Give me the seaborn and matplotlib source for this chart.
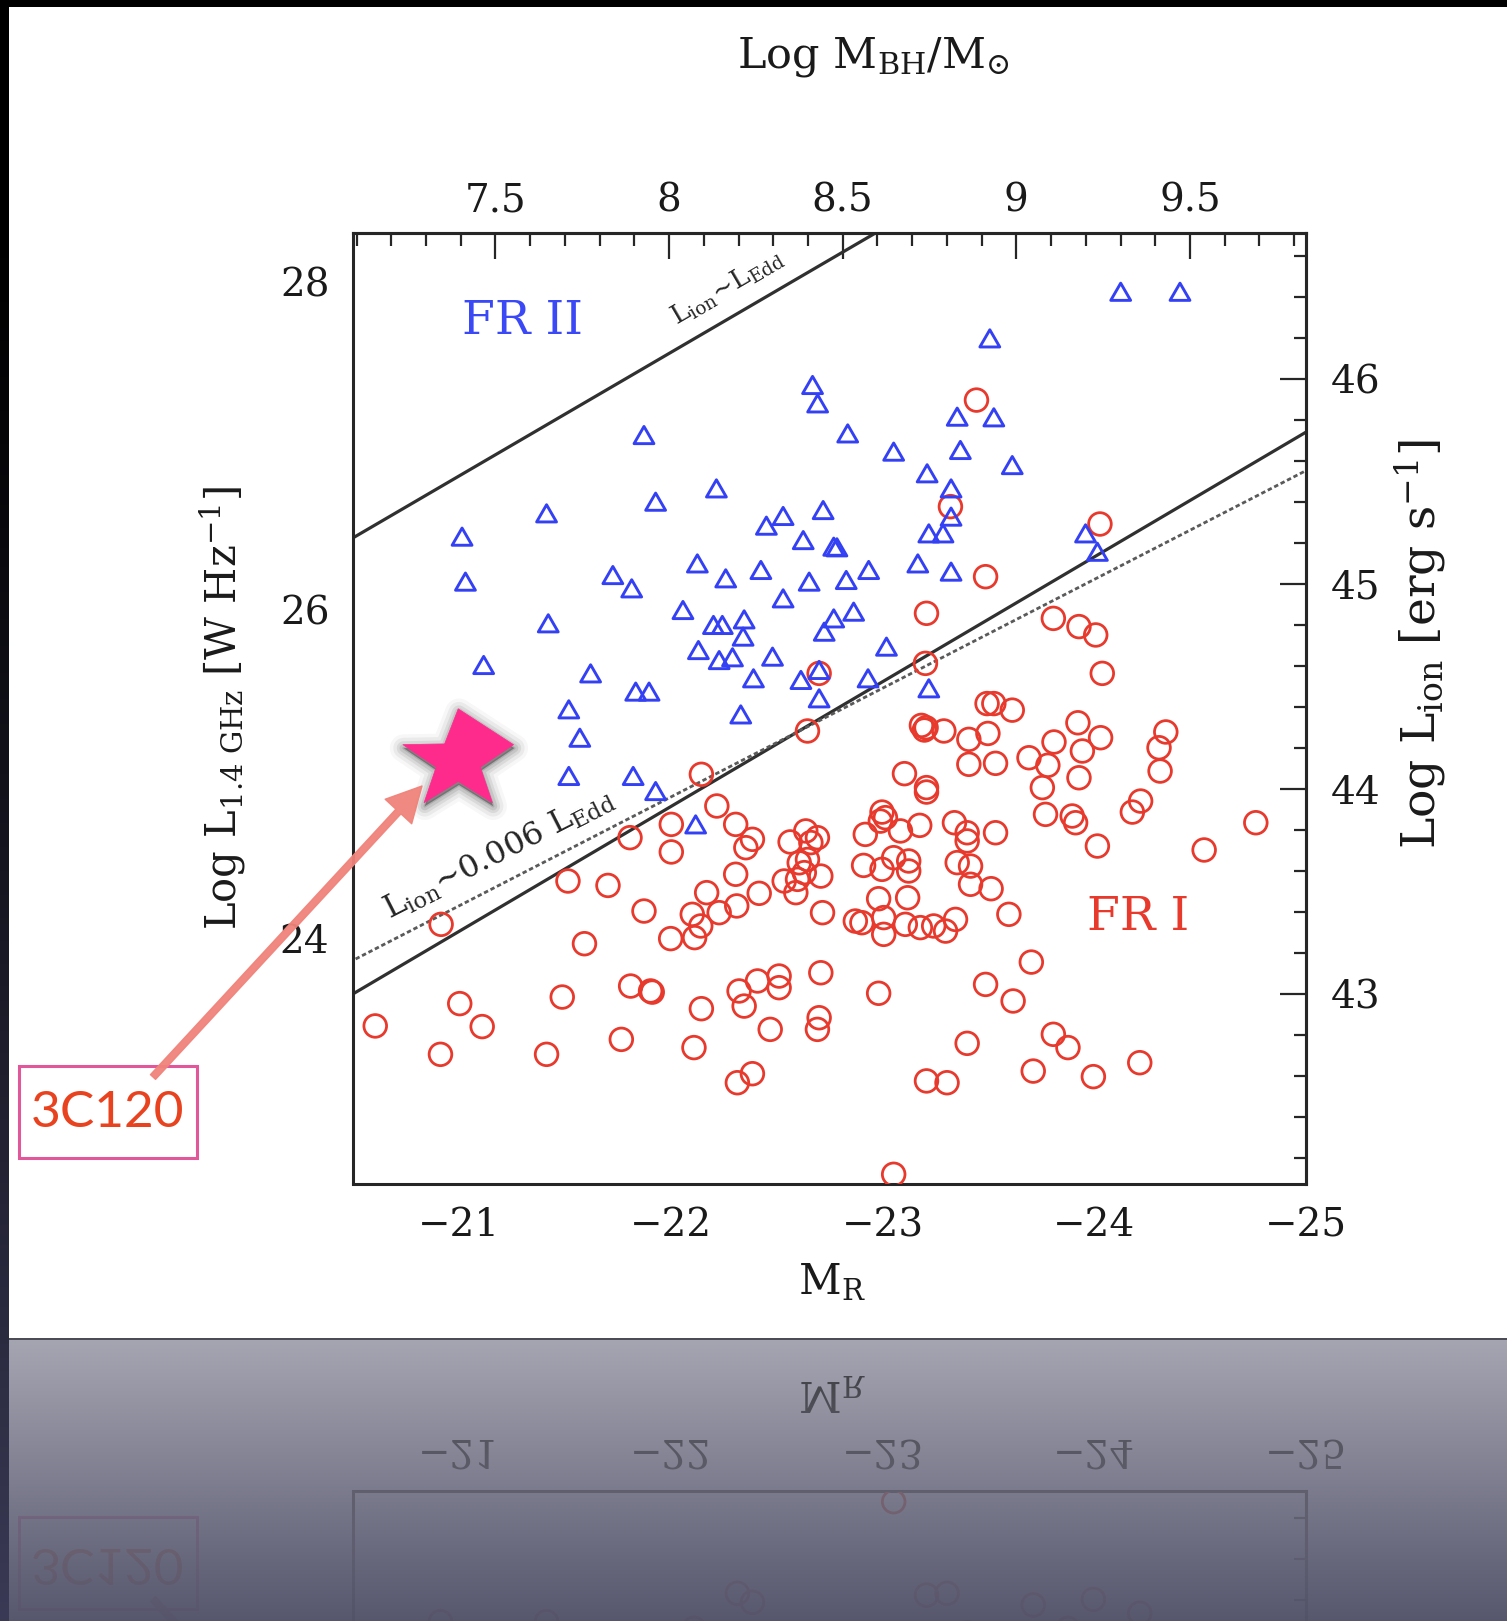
import numpy as np
import pandas as pd
import matplotlib
matplotlib.use("Agg")
import matplotlib.pyplot as plt
import seaborn as sns
from matplotlib.markers import MarkerStyle
from matplotlib.path import Path
from matplotlib.patches import FancyArrowPatch, Rectangle
import matplotlib.patheffects as pe
from matplotlib.ticker import MultipleLocator, FixedLocator, FuncFormatter

W, H = 1507, 1621
DPI = 100

# ---------------- data ----------------
# FR II radio galaxies (blue triangles): M_R, log L_1.4GHz
fr2_mr = [-21.015, -21.031, -21.414, -21.422, -21.117, -21.622, -21.874, -21.929, -22.216,
          -21.727, -21.816, -22.058, -22.126, -22.260, -22.426, -22.452, -22.531, -22.626,
          -22.654, -22.531, -22.670, -22.694, -22.720, -22.202, -22.244, -22.347, -22.342,
          -22.131, -22.229, -22.292, -22.481, -22.391, -22.615, -22.701, -22.701, -21.835,
          -21.898,
          -24.125, -24.405, -23.507, -23.353, -23.526, -22.836, -23.053, -23.368, -23.613,
          -23.211, -23.324, -23.324, -23.219, -23.286, -22.770, -22.785, -22.935, -22.829,
          -23.167, -23.324, -22.864, -22.770, -22.725, -23.019, -22.932, -23.219, -23.959,
          -24.015,
          -21.519, -21.571, -21.519, -21.823, -21.929, -22.118, -22.331]
fr2_logl = [26.447, 26.173, 26.589, 25.919, 25.665, 25.614, 27.066, 26.660, 26.741,
            26.213, 26.132, 26.000, 26.284, 26.193, 26.244, 26.514, 26.573, 26.426,
            26.173, 26.071, 27.371, 27.259, 26.609, 25.909, 25.909, 25.943, 25.838,
            25.756, 25.695, 25.712, 25.716, 25.584, 25.574, 25.635, 25.462, 25.503,
            25.503,
            27.939, 27.939, 27.655, 27.178, 27.174, 27.076, 26.965, 26.975, 26.883,
            26.833, 26.741, 26.569, 26.467, 26.467, 26.386, 26.382, 26.244, 26.183,
            26.284, 26.234, 25.990, 25.949, 25.868, 25.777, 25.584, 25.523, 26.467,
            26.355,
            25.395, 25.222, 24.989, 24.989, 24.897, 24.694, 25.364]

# FR I radio galaxies (red circles): M_R, log L_1.4GHz
fr1_mr = [-22.701, -23.444, -23.321, -24.027, -23.487, -23.208, -23.807, -23.928, -24.007,
          -24.038, -23.203, -23.494, -23.526, -23.613,
          -20.605, -20.913, -21.004, -21.110, -20.916, -21.414, -21.488, -21.515, -21.704,
          -21.593, -21.808, -21.767, -21.811, -21.905, -21.913, -21.874, -22.003, -22.003,
          -22.000, -22.145, -22.218, -22.307, -22.386, -22.355, -22.307, -22.170, -22.102,
          -22.229, -22.312, -22.142, -22.113, -22.418, -22.145, -22.110, -22.323, -22.347,
          -22.410, -22.512, -22.512, -22.470, -22.315, -22.386, -22.646, -22.564, -22.638,
          -22.693, -22.662, -22.536, -22.591, -22.607, -22.631, -22.599, -22.646, -22.709,
          -22.717, -22.709, -22.701, -22.693,
          -23.184, -23.206, -23.198, -23.290, -23.408, -23.498, -23.923, -24.030, -23.810,
          -23.692, -23.781, -23.944, -23.928, -23.755, -23.770, -23.896, -23.912, -24.015,
          -23.408, -23.534, -23.104, -23.208, -23.208, -24.338, -24.306, -24.311, -24.219,
          -24.180, -24.763, -24.519, -22.998, -23.014, -22.990, -22.919, -23.085, -23.176,
          -23.340, -23.400, -23.400, -23.534, -22.911, -22.998, -23.053, -23.124, -23.124,
          -23.353, -23.416, -23.416, -23.513, -22.982, -23.119, -23.597, -22.903, -23.006,
          -23.006, -23.108, -23.179, -23.242, -23.298, -23.345, -22.872, -23.703, -23.487,
          -23.617, -22.982, -23.400, -23.807, -23.876, -24.215, -23.712, -23.996, -23.208,
          -23.305, -23.053]
fr1_logl = [25.614, 27.279, 26.630, 26.524, 26.203, 25.980, 25.949, 25.899, 25.848,
            25.614, 25.675, 25.430, 25.430, 25.390,
            23.466, 23.293, 23.602, 23.462, 24.085, 23.293, 23.642, 24.349, 24.322,
            23.967, 24.613, 23.384, 23.709, 23.679, 23.672, 24.166, 24.694, 24.526,
            23.998, 24.999, 24.806, 24.694, 24.603, 24.552, 24.390, 24.278, 24.146,
            24.156, 24.197, 24.075, 24.004, 24.274, 23.571, 23.334, 23.679, 23.587,
            23.740, 23.770, 23.699, 23.445, 23.120, 23.175, 25.263, 24.587, 24.654,
            24.613, 24.583, 24.349, 24.278, 24.460, 24.400, 24.359, 24.480, 24.379,
            24.156, 23.790, 23.516, 23.445,
            25.297, 25.283, 25.269, 25.263, 25.212, 25.248, 25.313, 25.222, 25.196,
            25.100, 25.054, 25.141, 24.978, 24.918, 24.755, 24.745, 24.704, 24.562,
            25.060, 25.066, 25.003, 24.918, 24.891, 25.257, 25.161, 25.019, 24.836,
            24.769, 24.704, 24.538, 24.769, 24.735, 24.714, 24.633, 24.654, 24.688,
            24.704, 24.643, 24.593, 24.643, 24.444, 24.420, 24.491, 24.471, 24.410,
            24.461, 24.440, 24.329, 24.302, 24.241, 24.247, 24.146, 24.095, 24.126,
            24.024, 24.085, 24.065, 24.075, 24.044, 24.115, 24.105, 23.855, 23.719,
            23.618, 23.665, 23.360, 23.415, 23.334, 23.242, 23.191, 23.157, 23.131,
            23.120, 22.562]

# highlighted source
src_name = ["3C120"]
src_mr = [-20.997]
src_logl = [25.112]

# model lines: end points (M_R, log L_1.4)
edd_mr, edd_logl = [-20.30, -23.10], [26.289, 28.397]
f006_mr, f006_logl = [-20.30, -25.20], [23.509, 27.236]
dot_mr, dot_logl = [-20.30, -25.20], [23.733, 26.982]

# axis ticks
x_major = [-21, -22, -23, -24, -25]
y_major = [24, 26, 28]
mbh_major = [7.5, 8.0, 8.5, 9.0, 9.5]
lion_major = [43, 44, 45, 46]

region_labels = ["FR II", "FR I"]
line_labels = [r"L$_{\rm ion}$~L$_{\rm Edd}$", r"L$_{\rm ion}$~0.006 L$_{\rm Edd}$"]

# secondary-axis conversions
def mr_to_logm(m):
    return -0.6098 * np.asarray(m) - 5.411

def logm_to_mr(lm):
    return (np.asarray(lm) + 5.411) / -0.6098

def l_to_lion(l):
    return 0.8013 * np.asarray(l) + 24.040

def lion_to_l(li):
    return (np.asarray(li) - 24.040) / 0.8013

# ---------------- style ----------------
sns.set_theme(style="white")
plt.rcParams["font.family"] = ["DejaVu Serif", "DejaVu Sans"]
plt.rcParams["mathtext.fontset"] = "dejavuserif"
plt.rcParams["axes.unicode_minus"] = True

BLUE = "#3440f4"
RED = "#e8392d"
INK = "#262626"

fig = plt.figure(figsize=(W / DPI, H / DPI), dpi=DPI)
fig.patch.set_facecolor("black")

# slide background with white panel
PANEL_TOP, PANEL_BOTTOM, PANEL_LEFT = 7, 1338, 9
yy = np.arange(H)[:, None, None] / (H - 1)
shade = np.clip((yy - 0.12) / 0.88, 0, 1) ** 1.3
bg = np.ones((H, W, 3)) * shade * (np.array([58, 58, 86]) / 255.0)
bg[PANEL_TOP:PANEL_BOTTOM, PANEL_LEFT:, :] = 1.0
ax_bg = fig.add_axes([0, 0, 1, 1], zorder=-10)
ax_bg.imshow(bg, aspect="auto", interpolation="nearest", extent=(0, 1, 0, 1))
ax_bg.set_axis_off()

# main axes
L, R, T, B = 353, 1306, 233, 1183.5
ax = fig.add_axes([L / W, 1 - B / H, (R - L) / W, (B - T) / H])
ax.set_facecolor("white")
ax.set_xlim(-20.5, -25.0)
ax.set_ylim(22.506, 28.297)

# model lines
ax.plot(edd_mr, edd_logl, color="#303030", lw=2.3, zorder=2)
ax.plot(f006_mr, f006_logl, color="#303030", lw=2.3, zorder=2)
ax.plot(dot_mr, dot_logl, color="#5a5a5a", lw=2.0, ls=(0, (1.6, 1.0)), zorder=2)

# points
df1 = pd.DataFrame({"M_R": fr1_mr, "logL": fr1_logl})
df2 = pd.DataFrame({"M_R": fr2_mr, "logL": fr2_logl})
tri = MarkerStyle(Path([(0, 0.433), (-0.5, -0.433), (0.5, -0.433), (0, 0.433)], closed=True))
sns.scatterplot(data=df1, x="M_R", y="logL", ax=ax, marker="o", s=16.3 ** 2,
                color=RED, facecolor="none", edgecolor=RED, linewidth=2.0,
                zorder=3, legend=False)
sns.scatterplot(data=df2, x="M_R", y="logL", ax=ax, marker=tri, s=14.3 ** 2,
                color=BLUE, facecolor="none", edgecolor=BLUE, linewidth=2.1,
                zorder=3, legend=False)

# star marker for 3C120
ang = np.deg2rad(90 + 36 * np.arange(10))
rad = np.where(np.arange(10) % 2 == 0, 1.0, 0.40)
sx = rad * np.cos(ang) * 1.12
sy = rad * np.sin(ang)
sy = sy - (sy.max() + sy.min()) / 2
star = MarkerStyle(Path(np.column_stack([sx, sy]), closed=True))
dfs = pd.DataFrame({"M_R": src_mr, "logL": src_logl, "name": src_name})
sns.scatterplot(data=dfs, x="M_R", y="logL", ax=ax, marker=star, s=79.6 ** 2,
                color="#fe2b8d", edgecolor="#fe2b8d", linewidth=0.5,
                zorder=6, legend=False, clip_on=False)
shadow = [pe.SimplePatchShadow(offset=(0.5, -2.5), shadow_rgbFace="black", alpha=a, linewidth=lw)
          for lw, a in [(20, 0.03), (15, 0.05), (10, 0.07), (6, 0.09), (2, 0.12)]] + [pe.Normal()]
ax.collections[-1].set_path_effects(shadow)

# region & line labels
ax.text(-21.30, 27.756, region_labels[0], color="#3b48f6", fontsize=34,
        ha="center", va="center", zorder=4)
ax.text(-24.207, 24.125, region_labels[1], color=RED, fontsize=34,
        ha="center", va="center", zorder=4)
ax.text(-22.268, 27.966, line_labels[0], color=INK, fontsize=19, rotation=30.4,
        rotation_mode="anchor", ha="center", va="center", zorder=4)
ax.text(-21.188, 24.512, line_labels[1], color=INK, fontsize=23, rotation=27,
        rotation_mode="anchor", ha="center", va="center", zorder=4)

# ticks
fmt = FuncFormatter(lambda v, p: f"{v:g}".replace("-", "\u2212"))
ax.xaxis.set_major_locator(FixedLocator(x_major))
ax.xaxis.set_minor_locator(MultipleLocator(0.2))
ax.xaxis.set_major_formatter(fmt)
ax.yaxis.set_major_locator(FixedLocator(y_major))
ax.yaxis.set_minor_locator(MultipleLocator(0.5))
ax.yaxis.set_major_formatter(fmt)
ax.tick_params(which="both", direction="in", top=False, right=False,
               width=1.6, color=INK, labelcolor="#1a1a1a", labelsize=28)
ax.tick_params(which="major", length=19)
ax.tick_params(which="minor", length=9)
ax.tick_params(axis="x", which="major", pad=17)
ax.tick_params(axis="y", which="major", pad=17)
for s in ax.spines.values():
    s.set_linewidth(2.2)
    s.set_color(INK)

secx = ax.secondary_xaxis("top", functions=(mr_to_logm, logm_to_mr))
secx.xaxis.set_major_locator(FixedLocator(mbh_major))
secx.xaxis.set_minor_locator(MultipleLocator(0.1))
secx.xaxis.set_major_formatter(fmt)
secx.tick_params(which="both", direction="in", width=1.6, color=INK,
                 labelcolor="#1a1a1a", labelsize=28)
secx.tick_params(which="major", length=19, pad=10)
secx.tick_params(which="minor", length=9)
secx.spines["top"].set_linewidth(2.2)

secy = ax.secondary_yaxis("right", functions=(l_to_lion, lion_to_l))
secy.yaxis.set_major_locator(FixedLocator(lion_major))
secy.yaxis.set_minor_locator(MultipleLocator(0.2))
secy.yaxis.set_major_formatter(fmt)
secy.tick_params(which="both", direction="in", width=1.6, color=INK,
                 labelcolor="#1a1a1a", labelsize=28)
secy.tick_params(which="major", length=19, pad=18)
secy.tick_params(which="minor", length=9)
secy.spines["right"].set_linewidth(2.2)

# axis labels
ax.set_xlabel(r"M$_{\rm R}$", fontsize=30, color="#1a1a1a")
ax.xaxis.label.set_verticalalignment("center")
ax.xaxis.set_label_coords(0.5026, -0.1036, transform=ax.transAxes)
ax.set_ylabel(r"Log L$_{\rm 1.4\ GHz}$ [W Hz$^{-1}$]", fontsize=30, color="#1a1a1a")
ax.yaxis.label.set_verticalalignment("center")
ax.yaxis.set_label_coords(-0.1372, 0.500, transform=ax.transAxes)
secx.set_xlabel(r"Log M$_{\rm BH}$/M$_{\odot}$", fontsize=31, color="#1a1a1a")
secx.xaxis.label.set_verticalalignment("center")
secx.xaxis.set_label_coords(0.5458, 1.1852, transform=ax.transAxes)
secy.set_ylabel(r"Log L$_{\rm ion}$ [erg s$^{-1}$]", fontsize=34, color="#1a1a1a",
                rotation=90)
secy.yaxis.label.set_verticalalignment("center")
secy.yaxis.set_label_coords(1.1207, 0.568, transform=ax.transAxes)

# callout box + arrow
box = Rectangle((19 / W, 1 - 1158 / H), (197 - 19) / W, (1158 - 1066) / H,
                transform=fig.transFigure, facecolor="white", edgecolor="#e2569a",
                linewidth=2.2, zorder=4)
fig.add_artist(box)
fig.text(108 / W, 1 - 1113 / H, src_name[0], color="#e8421f", fontsize=37,
         family=["Lato", "DejaVu Sans"], ha="center", va="center", zorder=6)
arrow = FancyArrowPatch((153 / W, 1 - 1077 / H), (422 / W, 1 - 786 / H),
                        transform=fig.transFigure,
                        arrowstyle="simple,head_length=1.25,head_width=1.3,tail_width=0.25",
                        mutation_scale=20, color="#f0837a", alpha=0.95,
                        shrinkA=0, shrinkB=0, zorder=5)
fig.add_artist(arrow)

# ---------------- reflection of the lower part of the slide ----------------
fig.canvas.draw()
img = np.asarray(fig.canvas.buffer_rgba())[..., :3].astype(float) / 255.0
nref = H - PANEL_BOTTOM
mirror = img[PANEL_BOTTOM - nref:PANEL_BOTTOM, PANEL_LEFT:, :][::-1]
t = np.linspace(0, 1, nref)[:, None, None]
top_c = np.array([0.65, 0.65, 0.70])
bot_c = np.array([0.34, 0.34, 0.43])
base = top_c * (1 - t) + bot_c * t
k = 0.72 * (1 - t) ** 1.6 + 0.06
refl = base * (1 - k * (1 - mirror))
refl[0:2] = np.array([0.30, 0.30, 0.34])
ax_ref = fig.add_axes([PANEL_LEFT / W, 0, (W - PANEL_LEFT) / W, nref / H], zorder=-5)
ax_ref.imshow(np.clip(refl, 0, 1), aspect="auto", interpolation="nearest",
              extent=(0, 1, 0, 1))
ax_ref.set_axis_off()

fig.savefig("out.png", dpi=DPI, facecolor=fig.get_facecolor())
